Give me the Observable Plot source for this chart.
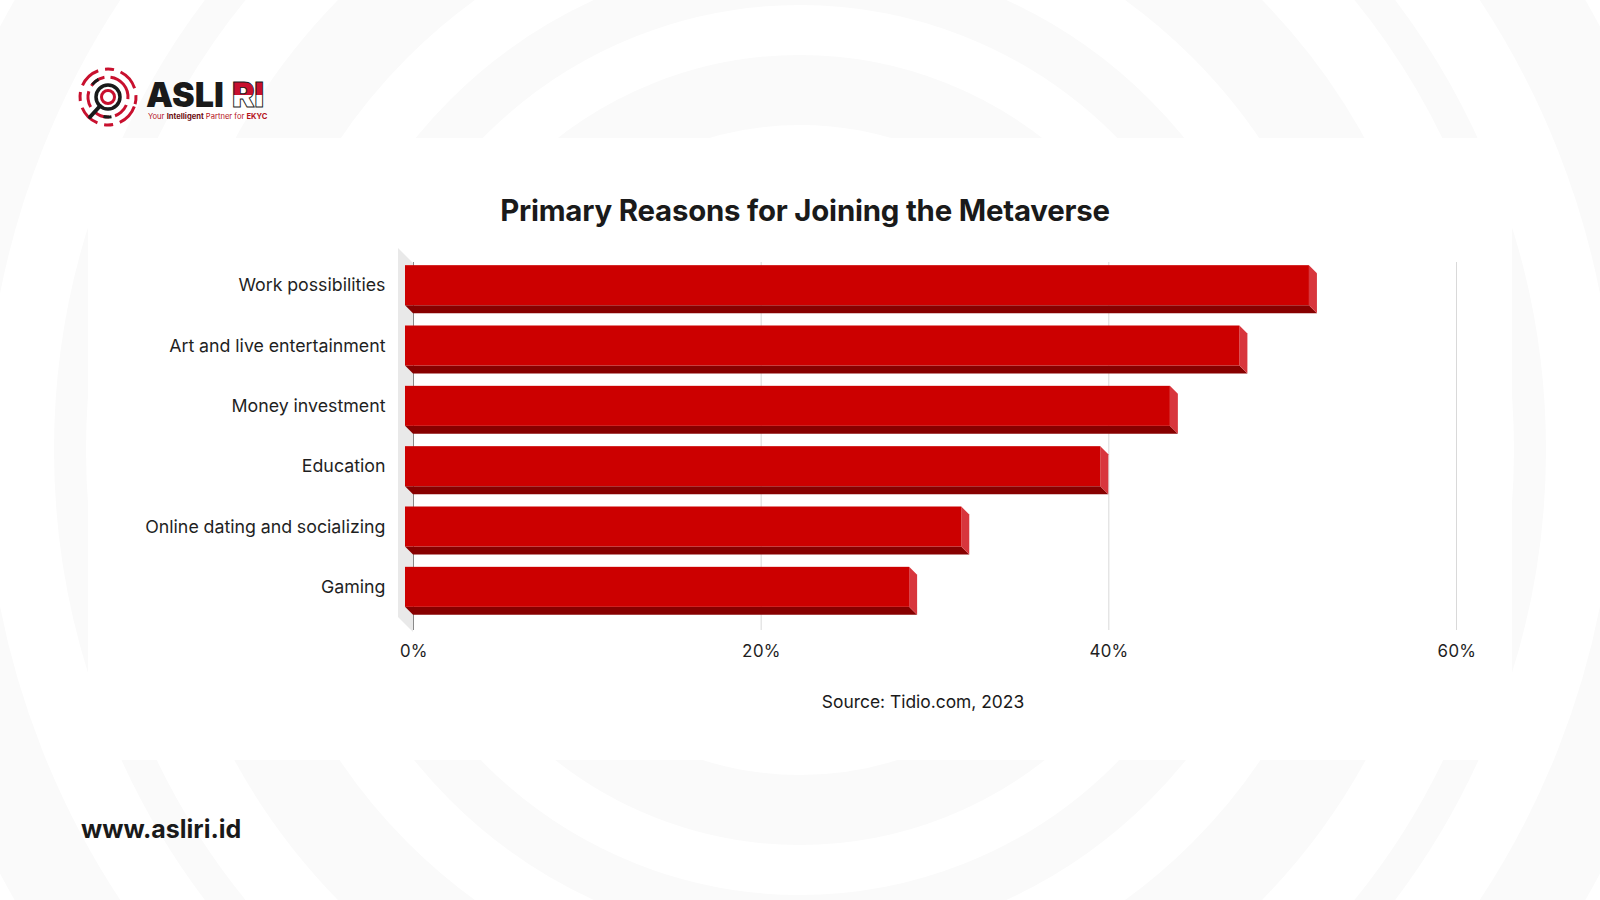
<!DOCTYPE html>
<html>
<head>
<meta charset="utf-8">
<script src="https://cdn.jsdelivr.net/npm/d3@7"></script>
<script src="https://cdn.jsdelivr.net/npm/@observablehq/plot@0.6"></script>
<style>
  html, body { margin: 0; padding: 0; background: #fff; }
  #page { position: relative; width: 1600px; height: 900px; overflow: hidden; font-family: Inter, "Open Sans", sans-serif; }
  #bg, #chart, #logo { position: absolute; left: 0; top: 0; }
  #chart svg { background: transparent; }
  .title { position: absolute; left: 0; width: 1610px; top: 194px; line-height: 34px; text-align: center; font-weight: 700; font-size: 29.4px; color: #1a1a1a; letter-spacing: -0.2px; }
  .source { position: absolute; left: 0; width: 1846px; top: 690px; line-height: 24px; text-align: center; font-size: 17.4px; color: #1a1a1a; }
  .url { position: absolute; left: 81px; top: 812px; line-height: 34px; font-size: 25px; font-weight: 700; color: #1a1a1a; }
</style>
</head>
<body>
<div id="page">
  <svg id="bg" width="1600" height="900">
    <g fill="none" stroke="#fafafa">
      <circle cx="800" cy="450" r="360" stroke-width="70"/>
      <circle cx="800" cy="450" r="470" stroke-width="50"/>
      <circle cx="800" cy="450" r="600" stroke-width="90"/>
      <circle cx="800" cy="450" r="730" stroke-width="32"/>
      <circle cx="800" cy="450" r="860" stroke-width="90"/>
    </g>
    <rect x="88" y="138" width="1424" height="622" fill="#fff"/>
  </svg>
  <svg id="logo" width="300" height="150">
    <defs>
      <linearGradient id="flag" x1="0" y1="0" x2="0" y2="1">
        <stop offset="0.5" stop-color="#c8102e"/>
        <stop offset="0.5" stop-color="#ffffff"/>
      </linearGradient>
    </defs>
    <g transform="translate(108,97)">
      <circle r="28" fill="none" stroke="#c8102e" stroke-width="3" stroke-dasharray="22 7 9 7" transform="rotate(20)"/>
      <circle r="20" fill="none" stroke="#c8102e" stroke-width="3" stroke-dasharray="16 6" transform="rotate(-40)"/>
      <circle r="20" fill="none" stroke="#1a1a1a" stroke-width="3" stroke-dasharray="8 40 8 70" transform="rotate(80)"/>
      <circle r="12" fill="#fff" stroke="#1a1a1a" stroke-width="3.5"/>
      <circle r="6.5" fill="none" stroke="#c8102e" stroke-width="3"/>
      <line x1="-8" y1="9" x2="-18" y2="20" stroke="#1a1a1a" stroke-width="4" stroke-linecap="round"/>
    </g>
    <text x="146" y="107" font-family="Inter" font-weight="900" font-size="34" fill="#1a1a1a">ASLI</text>
    <text x="232" y="107" font-family="Inter" font-weight="900" font-size="34" letter-spacing="-0.5" fill="url(#flag)" stroke="#1a1a1a" stroke-width="0.9">RI</text>
    <text x="148" y="119" font-family="Inter" font-size="7.6" fill="#b5121b">Your <tspan font-weight="700" fill="#6a0c10">Intelligent</tspan> Partner for <tspan font-weight="700">EKYC</tspan></text>
  </svg>
  <div id="chart"></div>
  <div class="title">Primary Reasons for Joining the Metaverse</div>
  <div class="source">Source: Tidio.com, 2023</div>
  <div class="url">www.asliri.id</div>
</div>
<script>
// ---- data ----
const categories = [
  "Work possibilities",
  "Art and live entertainment",
  "Money investment",
  "Education",
  "Online dating and socializing",
  "Gaming"
];
const values = [52, 48, 44, 40, 32, 29];
const xTicks = [0, 20, 40, 60];
const xTickLabels = ["0%", "20%", "40%", "60%"];

// ---- layout ----
const W = 1600, H = 900;
const mL = 413, mR = 144, mT = 255, mB = 283;
const xDomain = [0, 60];
const yDomain = [-0.5, categories.length - 0.5];
const pxPerX = (W - mL - mR) / (xDomain[1] - xDomain[0]);
const pxPerY = (H - mT - mB) / (yDomain[1] - yDomain[0]);
const ux = px => px / pxPerX;
const uy = px => px / pxPerY;

const DEPTH = 8;          // 3D depth in px
const HALF = 20;          // half height of front face in px
const DX = ux(DEPTH), DY = uy(DEPTH), HH = uy(HALF);

const rows = categories.map((c, i) => ({category: c, idx: i, value: values[i]}));

const sideFaces = rows.flatMap(r => [
  {idx: r.idx, x: r.value - DX, y1: r.idx - HH, y2: r.idx + HH},
  {idx: r.idx, x: r.value, y1: r.idx - HH + DY, y2: r.idx + HH + DY}
]);
const bottomFaces = rows.flatMap(r => [
  {idx: r.idx, y: r.idx + HH, x1: -DX, x2: r.value - DX},
  {idx: r.idx, y: r.idx + HH + DY, x1: 0, x2: r.value}
]);

const yTop = yDomain[0], yBot = yDomain[1];
const wall = [
  {x: -ux(15), y1: yTop - uy(7), y2: yBot},
  {x: 0, y1: yTop + uy(8), y2: yBot + uy(15)}
];
const ruleTop = yTop + uy(7), ruleBot = yBot + uy(13);

const chart = Plot.plot({
  width: W, height: H,
  marginLeft: mL, marginRight: mR, marginTop: mT, marginBottom: mB,
  style: {fontFamily: "Inter, 'Open Sans', sans-serif", fontSize: "17px", color: "#1f1f1f", background: "transparent"},
  x: {domain: xDomain},
  y: {domain: yDomain, reverse: true},
  marks: [
    Plot.areaY(wall, {x: "x", y1: "y1", y2: "y2", fill: "#e9e9e9"}),
    Plot.ruleX(xTicks.filter(d => d !== 0), {x: d => d, y1: ruleTop, y2: ruleBot, stroke: "#d9d9d9", strokeWidth: 1}),
    Plot.ruleX([0], {x: d => d, y1: ruleTop, y2: ruleBot, stroke: "#8a8a8a", strokeWidth: 1}),
    Plot.areaX(bottomFaces, {y: "y", x1: "x1", x2: "x2", z: "idx", fill: "#870000"}),
    Plot.areaY(sideFaces, {x: "x", y1: "y1", y2: "y2", z: "idx", fill: "#d8363d"}),
    Plot.rect(rows, {x1: () => -DX, x2: d => d.value - DX, y1: d => d.idx - HH, y2: d => d.idx + HH, fill: "#cc0000"}),
    Plot.axisX({ticks: xTicks, tickFormat: (d) => xTickLabels[xTicks.indexOf(d)], tickSize: 0, tickPadding: 27, label: null, fontSize: 17}),
    Plot.axisY({ticks: rows.map(r => r.idx), tickFormat: d => categories[d], tickSize: 0, tickPadding: 28, label: null, fontSize: 17.8})
  ]
});
document.getElementById("chart").appendChild(chart);
</script>
</body>
</html>
